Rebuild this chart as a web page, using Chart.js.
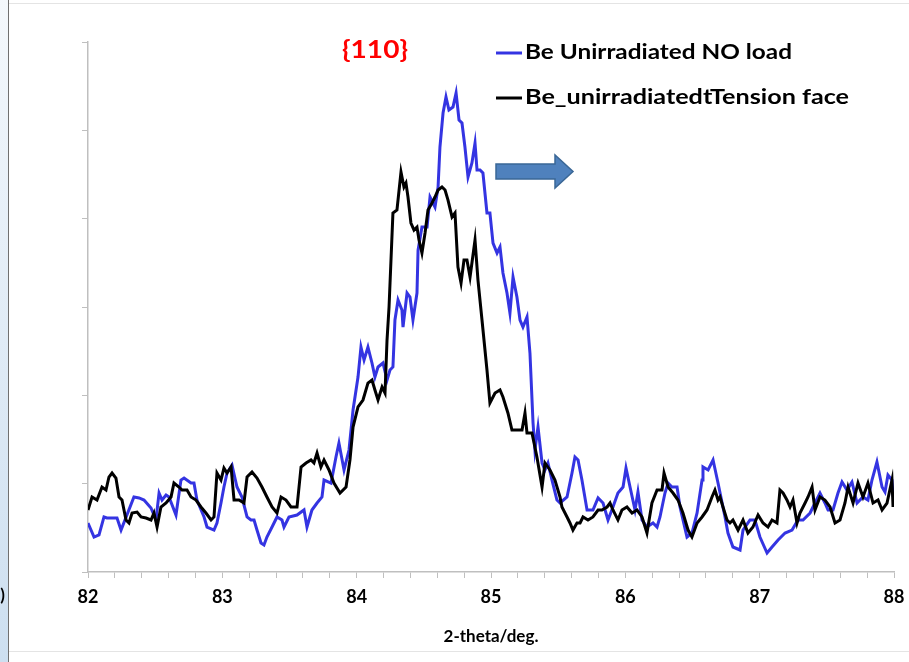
<!DOCTYPE html>
<html>
<head>
<meta charset="utf-8">
<script src="https://cdn.jsdelivr.net/npm/chart.js@4.4.1/dist/chart.umd.min.js"></script>
<style>
  html, body { margin: 0; padding: 0; background: #fff; }
  #wrap { position: relative; width: 909px; height: 662px; }
</style>
</head>
<body>
<div id="wrap"><canvas id="xrd" width="909" height="662"></canvas></div>
<script>
// {110} reflection scans, intensity in counts vs 2-theta (deg)
const seriesNames = ['Be Unirradiated NO load', 'Be_unirradiatedtTension face'];
const peakLabel = '{110}';
const axisTitleX = '2-theta/deg.';
const xTicksMajor = [82, 83, 84, 85, 86, 87, 88];

const noLoadTheta = [
  82.000, 82.045, 82.082, 82.119, 82.141, 82.216, 82.246, 82.342, 82.380, 82.417,
  82.469, 82.506, 82.529, 82.551, 82.581, 82.603, 82.655, 82.692, 82.715, 82.767,
  82.789, 82.811, 82.864, 82.886, 82.938, 82.960, 82.990, 83.012, 83.035, 83.072,
  83.109, 83.146, 83.184, 83.213, 83.236, 83.258, 83.288, 83.310, 83.332, 83.370,
  83.407, 83.444, 83.459, 83.496, 83.556, 83.608, 83.630, 83.667, 83.705, 83.742,
  83.757, 83.809, 83.846, 83.868, 83.906, 83.943, 83.973, 84.010, 84.032, 84.055,
  84.084, 84.114, 84.136, 84.159, 84.196, 84.226, 84.248, 84.270, 84.285, 84.308,
  84.337, 84.345, 84.375, 84.397, 84.419, 84.449, 84.457, 84.486, 84.524, 84.546,
  84.583, 84.606, 84.620, 84.643, 84.665, 84.687, 84.717, 84.740, 84.762, 84.784,
  84.806, 84.829, 84.858, 84.881, 84.896, 84.918, 84.940, 84.970, 84.992, 85.015,
  85.045, 85.067, 85.089, 85.119, 85.141, 85.164, 85.193, 85.216, 85.238, 85.268,
  85.290, 85.313, 85.327, 85.350, 85.380, 85.402, 85.424, 85.454, 85.491, 85.514,
  85.566, 85.603, 85.625, 85.648, 85.677, 85.715, 85.759, 85.797, 85.834, 85.871,
  85.908, 85.945, 85.983, 86.005, 86.035, 86.072, 86.094, 86.124, 86.161, 86.206,
  86.236, 86.258, 86.295, 86.318, 86.347, 86.385, 86.407, 86.459, 86.496, 86.534,
  86.571, 86.578, 86.616, 86.653, 86.690, 86.742, 86.764, 86.801, 86.854, 86.876,
  86.928, 86.965, 87.002, 87.055, 87.092, 87.137, 87.189, 87.241, 87.285, 87.323,
  87.375, 87.412, 87.449, 87.486, 87.509, 87.546, 87.583, 87.613, 87.650, 87.687,
  87.725, 87.769, 87.806, 87.836, 87.873, 87.911, 87.933, 87.955, 87.985, 87.993
];
const noLoadCounts = [
  555, 396, 419, 623, 611, 611, 475, 849, 838, 815,
  724, 589, 894, 815, 872, 849, 645, 1041, 1064, 1007,
  1007, 815, 623, 509, 475, 555, 781, 962, 1121, 1211,
  962, 849, 623, 589, 589, 475, 328, 306, 396, 509,
  623, 589, 509, 623, 645, 702, 509, 702, 781, 849,
  1041, 1007, 1302, 1460, 1155, 1381, 1834, 2207, 2547, 2400,
  2547, 2366, 2207, 2321, 2366, 2173, 2287, 2321, 2853, 3079,
  2966, 2773, 3158, 3113, 2853, 3158, 3645, 3905, 3905, 4245,
  4132, 4358, 4811, 5196, 5377, 5230, 5264, 5422, 5117, 5083,
  4811, 4471, 4630, 4856, 4551, 4551, 4517, 4064, 4064, 3724,
  3611, 3679, 3385, 3158, 2932, 3339, 3113, 2853, 2773, 2887,
  2479, 1687, 1381, 1641, 1234, 1155, 1234, 1041, 815, 781,
  849, 1121, 1302, 1268, 1041, 702, 702, 838, 781, 589,
  736, 894, 962, 1177, 962, 702, 906, 589, 509, 555,
  509, 623, 894, 1007, 962, 962, 736, 396, 441, 668,
  1041, 1189, 1155, 1268, 1007, 623, 441, 283, 249, 475,
  589, 589, 396, 215, 283, 362, 441, 475, 589, 589,
  668, 781, 894, 781, 702, 702, 894, 1019, 928, 1019,
  781, 849, 815, 1041, 1245, 962, 906, 1098, 1041, 849
];

const tensionTheta = [
  82.000, 82.030, 82.067, 82.104, 82.134, 82.156, 82.179, 82.208, 82.231, 82.253,
  82.283, 82.305, 82.328, 82.365, 82.395, 82.432, 82.469, 82.491, 82.514, 82.543,
  82.581, 82.618, 82.640, 82.677, 82.700, 82.737, 82.767, 82.804, 82.841, 82.878,
  82.916, 82.938, 82.960, 82.990, 83.012, 83.035, 83.065, 83.087, 83.124, 83.161,
  83.184, 83.221, 83.258, 83.295, 83.332, 83.370, 83.407, 83.437, 83.474, 83.511,
  83.556, 83.586, 83.623, 83.660, 83.682, 83.705, 83.734, 83.757, 83.794, 83.831,
  83.876, 83.921, 83.950, 83.973, 84.010, 84.047, 84.084, 84.114, 84.136, 84.159,
  84.189, 84.211, 84.226, 84.241, 84.270, 84.300, 84.330, 84.352, 84.367, 84.382,
  84.404, 84.427, 84.449, 84.464, 84.486, 84.509, 84.531, 84.561, 84.583, 84.606,
  84.635, 84.658, 84.680, 84.710, 84.732, 84.754, 84.777, 84.799, 84.821, 84.844,
  84.881, 84.903, 84.933, 84.970, 84.992, 85.030, 85.067, 85.089, 85.126, 85.156,
  85.193, 85.231, 85.253, 85.268, 85.305, 85.342, 85.380, 85.402, 85.439, 85.476,
  85.514, 85.528, 85.566, 85.588, 85.610, 85.640, 85.663, 85.685, 85.722, 85.759,
  85.797, 85.826, 85.864, 85.886, 85.908, 85.945, 85.975, 86.012, 86.050, 86.087,
  86.124, 86.161, 86.198, 86.236, 86.273, 86.288, 86.318, 86.355, 86.392, 86.429,
  86.467, 86.496, 86.534, 86.571, 86.608, 86.645, 86.667, 86.690, 86.705, 86.727,
  86.757, 86.779, 86.801, 86.839, 86.876, 86.913, 86.950, 86.988, 87.025, 87.062,
  87.092, 87.129, 87.151, 87.174, 87.203, 87.226, 87.248, 87.278, 87.300, 87.338,
  87.360, 87.390, 87.412, 87.449, 87.486, 87.524, 87.561, 87.598, 87.635, 87.658,
  87.695, 87.732, 87.769, 87.806, 87.844, 87.881, 87.911, 87.948, 87.985, 87.993
];
const tensionCounts = [
  702, 849, 815, 962, 928, 1075, 1121, 1064, 849, 815,
  589, 555, 668, 679, 623, 611, 589, 668, 509, 736,
  781, 849, 1007, 962, 928, 928, 849, 815, 736, 668,
  589, 623, 1121, 1041, 1177, 1121, 1189, 815, 815, 781,
  1075, 1132, 1064, 962, 849, 736, 668, 849, 815, 736,
  736, 1189, 1234, 1268, 1234, 1347, 1189, 1268, 1155, 1007,
  894, 962, 1268, 1641, 1868, 1947, 2139, 2173, 2060, 1947,
  2094, 2026, 2626, 3000, 4064, 4098, 4528, 4358, 4403, 4245,
  3951, 3871, 3905, 3758, 3611, 3837, 4098, 4177, 4245, 4324,
  4358, 4324, 4211, 4019, 4064, 3453, 3271, 3532, 3532, 3339,
  3758, 3305, 2853, 2287, 1913, 2026, 2060, 1981, 1800, 1607,
  1607, 1607, 1800, 1573, 1573, 1302, 962, 1234, 1155, 1041,
  849, 736, 623, 555, 475, 555, 555, 623, 589, 623,
  702, 702, 736, 781, 702, 589, 702, 736, 668, 702,
  623, 441, 781, 928, 928, 1121, 962, 894, 815, 668,
  475, 396, 555, 623, 702, 849, 928, 815, 849, 736,
  589, 555, 589, 475, 589, 441, 509, 645, 555, 509,
  589, 555, 928, 894, 815, 736, 815, 555, 668, 781,
  849, 962, 702, 849, 815, 736, 555, 589, 781, 962,
  781, 1007, 849, 1007, 781, 815, 702, 781, 1041, 736
];

const COLORS = { noLoad: '#3434E2', tension: '#000000', axis: '#BFBFBF', red: '#FF0000' };
const pairs = (xs, ys) => xs.map((x, i) => ({ x, y: ys[i] }));

// Slide backdrop, hand-placed legend, reflection label and shift arrow
const decorations = {
  id: 'decorations',
  beforeDraw(chart) {
    const ctx = chart.ctx;
    ctx.save();
    ctx.fillStyle = '#ffffff';
    ctx.fillRect(0, 0, chart.width, chart.height);
    const g = ctx.createLinearGradient(0, 0, 0, chart.height);
    g.addColorStop(0, '#f4f8fc');
    g.addColorStop(1, '#cddff0');
    ctx.fillStyle = g;
    ctx.fillRect(0, 0, 8, chart.height);
    ctx.strokeStyle = '#707070';
    ctx.lineWidth = 1;
    ctx.beginPath(); ctx.moveTo(8.5, 0); ctx.lineTo(8.5, chart.height); ctx.stroke();
    ctx.strokeStyle = '#e4e4e4';
    ctx.beginPath(); ctx.moveTo(9, 3.5); ctx.lineTo(chart.width, 3.5); ctx.stroke();
    ctx.beginPath(); ctx.moveTo(9, 651.5); ctx.lineTo(chart.width, 651.5); ctx.stroke();
    ctx.fillStyle = '#000';
    ctx.font = 'bold 17px Lato, "Open Sans", sans-serif';
    ctx.textAlign = 'right';
    ctx.textBaseline = 'middle';
    ctx.fillText(')', 5, 596);
    ctx.restore();
  },
  afterDraw(chart) {
    const ctx = chart.ctx;
    ctx.save();
    // text stretched to a given width
    const fitText = (txt, x, y, w, font, color) => {
      ctx.font = font;
      ctx.fillStyle = color;
      ctx.textAlign = 'left';
      ctx.textBaseline = 'middle';
      const m = ctx.measureText(txt).width;
      ctx.save();
      ctx.translate(x, y);
      ctx.scale(w / m, 1);
      ctx.fillText(txt, 0, 0);
      ctx.restore();
    };
    fitText(peakLabel, 342, 50, 66, 'bold 24px Lato, "Open Sans", sans-serif', COLORS.red);

    const legendRows = [
      { name: seriesNames[0], color: COLORS.noLoad, y: 52, w: 267 },
      { name: seriesNames[1], color: COLORS.tension, y: 97, w: 324 }
    ];
    legendRows.forEach(r => {
      ctx.strokeStyle = r.color;
      ctx.lineWidth = 3;
      ctx.beginPath(); ctx.moveTo(496, r.y + 1); ctx.lineTo(522, r.y + 1); ctx.stroke();
      fitText(r.name, 525, r.y, r.w, 'bold 21px Lato, "Open Sans", sans-serif', '#000');
    });

    ctx.beginPath();
    ctx.moveTo(496, 164); ctx.lineTo(555, 164); ctx.lineTo(555, 155);
    ctx.lineTo(573, 171.5); ctx.lineTo(555, 188); ctx.lineTo(555, 179);
    ctx.lineTo(496, 179); ctx.closePath();
    ctx.fillStyle = '#4F81BD';
    ctx.fill();
    ctx.strokeStyle = '#3A6796';
    ctx.lineWidth = 1.5;
    ctx.stroke();
    ctx.restore();
  }
};

new Chart(document.getElementById('xrd'), {
  type: 'line',
  data: {
    datasets: [
      {
        label: seriesNames[0],
        data: pairs(noLoadTheta, noLoadCounts),
        borderColor: COLORS.noLoad,
        borderWidth: 3,
        pointRadius: 0,
        tension: 0,
        order: 2
      },
      {
        label: seriesNames[1],
        data: pairs(tensionTheta, tensionCounts),
        borderColor: COLORS.tension,
        borderWidth: 3,
        pointRadius: 0,
        tension: 0,
        order: 1
      }
    ]
  },
  options: {
    responsive: false,
    animation: false,
    parsing: false,
    layout: { padding: { top: 42, right: 15, left: 0, bottom: 0 } },
    plugins: { legend: { display: false }, tooltip: { enabled: false }, title: { display: false } },
    scales: {
      x: {
        type: 'linear',
        min: 82,
        max: 88,
        border: { color: COLORS.axis, width: 1.5 },
        grid: { drawOnChartArea: false, drawTicks: true, tickLength: 6, color: COLORS.axis, lineWidth: 1 },
        ticks: {
          stepSize: 0.2,
          autoSkip: false,
          maxRotation: 0,
          padding: 8,
          color: '#000',
          font: { family: 'Lato, "Open Sans", sans-serif', size: 18, weight: 'bold' },
          callback: (v) => {
            const r = Math.round(v);
            return (Math.abs(v - r) < 1e-6 && xTicksMajor.includes(r)) ? String(r) : '';
          }
        },
        title: {
          display: true,
          text: axisTitleX,
          color: '#000',
          font: { family: 'Lato, "Open Sans", sans-serif', size: 17, weight: 'bold' },
          padding: { top: 4, bottom: 15 }
        },
        afterFit: (s) => { s.height = 90; s.paddingLeft = 0; s.paddingRight = 0; }
      },
      y: {
        min: 0,
        max: 6000,
        border: { color: COLORS.axis, width: 1.5 },
        grid: { drawOnChartArea: false, drawTicks: true, tickLength: 6, color: COLORS.axis },
        ticks: { display: false, stepSize: 1000 },
        afterFit: (s) => { s.width = 88; s.paddingTop = 0; s.paddingBottom = 0; }
      }
    }
  },
  plugins: [decorations]
});
</script>
</body>
</html>
